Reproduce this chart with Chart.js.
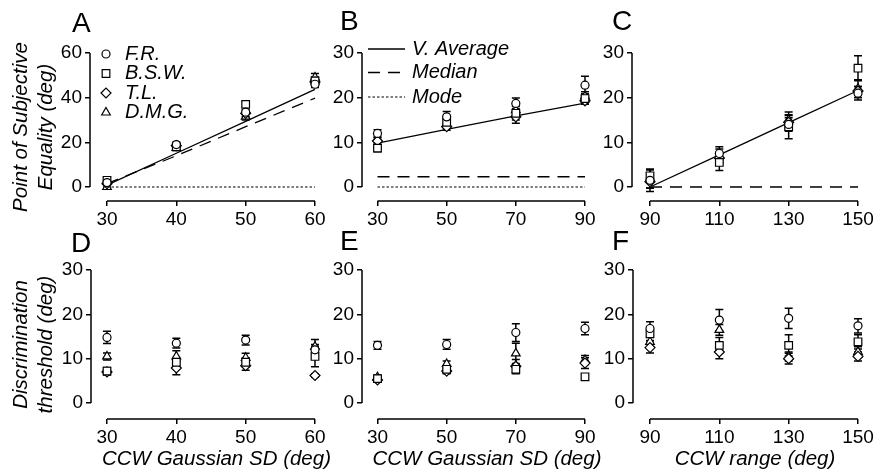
<!DOCTYPE html>
<html>
<head>
<meta charset="utf-8">
<script src="https://cdn.jsdelivr.net/npm/chart.js@4.4.0/dist/chart.umd.min.js"></script>
<style>
  body { margin: 0; background: #ffffff; }
  #figure { position: relative; width: 887px; height: 476px; overflow: hidden; }
  #figure canvas { position: absolute; }
</style>
</head>
<body>
<div id="figure">
  <canvas id="panel-a"></canvas>
  <canvas id="panel-b"></canvas>
  <canvas id="panel-c"></canvas>
  <canvas id="panel-d"></canvas>
  <canvas id="panel-e"></canvas>
  <canvas id="panel-f"></canvas>
</div>
<script>
const subjects = ["F.R.", "B.S.W.", "T.L.", "D.M.G."];
const modelNames = ["V. Average", "Median", "Mode"];

const gaussSdA = [30, 40, 50, 60];
const gaussSdB = [30, 50, 70, 90];
const rangeC = [90, 110, 130, 150];

const pseTicksA = [0, 20, 40, 60];
const pseTicksBC = [0, 10, 20, 30];
const thrTicks = [0, 10, 20, 30];

// point of subjective equality, one row per subject
const pseA = [
  [2.0, 19.0, 33.5, 46.0],
  [3.0, 18.0, 37.0, 47.5],
  [1.5, 18.5, 33.0, 47.0],
  [0.0, 17.5, 31.5, 49.0]
];
const pseAErr = [
  [1.0, 1.2, 1.0, 1.5],
  [1.2, 1.0, 1.2, 1.8],
  [1.0, 1.0, 1.5, 1.5],
  [1.0, 1.2, 1.5, 1.8]
];
const avgA = [0.8, 15.1, 29.4, 43.7];
const medianA = [1.5, 14.0, 27.0, 39.8];
const modeA = [0, 0, 0, 0];

const pseB = [
  [12.0, 15.7, 18.7, 22.8],
  [8.7, 14.5, 16.5, 19.8],
  [10.3, 13.5, 15.7, 19.3],
  [10.9, 14.2, 17.2, 20.3]
];
const pseBErr = [
  [0.8, 1.2, 1.2, 2.0],
  [0.8, 1.0, 1.5, 1.0],
  [0.8, 0.8, 1.4, 0.8],
  [1.0, 1.0, 1.5, 1.0]
];
const avgB = [9.8, 12.9, 15.9, 18.8];
const medianB = [2.3, 2.3, 2.3, 2.3];
const modeB = [0, 0, 0, 0];

const pseC = [
  [1.5, 7.5, 14.0, 21.0],
  [2.5, 5.5, 13.5, 26.6],
  [1.2, 6.5, 14.5, 21.5],
  [1.8, 7.0, 15.0, 22.0]
];
const pseCErr = [
  [2.5, 1.5, 1.5, 1.5],
  [1.5, 1.8, 2.7, 2.8],
  [1.5, 1.2, 1.5, 1.0],
  [2.0, 1.5, 1.8, 2.0]
];
const avgC = [0.0, 7.2, 14.4, 21.6];
const medianC = [0, 0, 0, 0];

// discrimination thresholds
const thrD = [
  [14.8, 13.5, 14.2, 12.0],
  [7.2, 9.2, 9.2, 10.5],
  [7.0, 7.9, 8.4, 6.2],
  [10.5, 10.5, 10.2, 12.7]
];
const thrDErr = [
  [1.4, 1.1, 1.1, 1.2],
  [0.8, 1.0, 1.0, 2.3],
  [0.6, 1.5, 1.0, 0.4],
  [0.8, 1.3, 1.0, 1.6]
];

const thrE = [
  [13.0, 13.2, 15.9, 16.8],
  [5.5, 7.6, 7.6, 5.9],
  [5.2, 7.2, 8.3, 9.0],
  [5.8, 8.8, 11.2, 9.7]
];
const thrEErr = [
  [0.9, 1.1, 2.0, 1.4],
  [0.5, 0.7, 1.0, 0.6],
  [0.5, 0.6, 1.5, 1.2],
  [0.5, 0.7, 2.3, 1.0]
];

const thrF = [
  [16.8, 18.7, 19.1, 17.4],
  [15.6, 13.0, 13.0, 13.8],
  [12.5, 11.5, 10.0, 10.5],
  [13.8, 16.5, 10.5, 11.5]
];
const thrFErr = [
  [1.5, 2.4, 2.3, 1.6],
  [1.5, 1.8, 2.4, 1.6],
  [1.2, 1.5, 1.2, 1.0],
  [1.2, 1.2, 1.0, 1.2]
];

const fontFamily = "'Liberation Sans', Arial, Helvetica, sans-serif";
Chart.defaults.font.family = fontFamily;
Chart.defaults.color = "#000000";

const markerStyles = ["circle", "rect", "rectRot", "triangle"];
const markerSizes = [4, 5.4, 5, 5];
const lineDashes = [[], [12, 8], [2.5, 2]];
const lineWidths = [1.3, 1.3, 1];

function subjectDatasets(xs, values, errors) {
  return values.map((row, i) => ({
    label: subjects[i],
    data: xs.map((x, j) => ({ x: x, y: row[j] })),
    errors: errors[i],
    showLine: false,
    pointStyle: markerStyles[i],
    pointRadius: markerSizes[i],
    pointHoverRadius: markerSizes[i],
    pointBackgroundColor: "#ffffff",
    pointBorderColor: "#000000",
    pointBorderWidth: 1.2,
    order: 0,
    clip: false
  }));
}

function modelDataset(xs, values, kind) {
  return {
    label: modelNames[kind],
    data: xs.map((x, j) => ({ x: x, y: values[j] })),
    showLine: true,
    borderColor: "#000000",
    borderWidth: lineWidths[kind],
    borderDash: lineDashes[kind],
    pointRadius: 0,
    pointHoverRadius: 0,
    order: 1,
    clip: false
  };
}

// vertical error bars with caps, drawn under the markers
const errorBars = {
  id: "errorBars",
  beforeDatasetsDraw(chart) {
    const ctx = chart.ctx;
    const yScale = chart.scales.y;
    ctx.save();
    ctx.strokeStyle = "#000000";
    ctx.lineWidth = 1.5;
    chart.data.datasets.forEach((ds, i) => {
      if (!ds.errors) return;
      chart.getDatasetMeta(i).data.forEach((pt, j) => {
        const v = ds.data[j].y;
        const e = ds.errors[j];
        const top = yScale.getPixelForValue(v + e);
        const bottom = yScale.getPixelForValue(v - e);
        ctx.beginPath();
        ctx.moveTo(pt.x, top);
        ctx.lineTo(pt.x, bottom);
        ctx.moveTo(pt.x - 4, top);
        ctx.lineTo(pt.x + 4, top);
        ctx.moveTo(pt.x - 4, bottom);
        ctx.lineTo(pt.x + 4, bottom);
        ctx.stroke();
      });
    });
    ctx.restore();
  }
};

// axis lines that only run between the first and last tick
const offsetAxes = {
  id: "offsetAxes",
  beforeDatasetsDraw(chart) {
    const { ctx, chartArea, scales } = chart;
    const x = scales.x;
    const y = scales.y;
    ctx.save();
    ctx.strokeStyle = "#000000";
    ctx.lineWidth = 1.5;
    ctx.beginPath();
    ctx.moveTo(chartArea.left, y.getPixelForValue(y.ticks[0].value));
    ctx.lineTo(chartArea.left, y.getPixelForValue(y.ticks[y.ticks.length - 1].value));
    ctx.moveTo(x.getPixelForValue(x.ticks[0].value), chartArea.bottom);
    ctx.lineTo(x.getPixelForValue(x.ticks[x.ticks.length - 1].value), chartArea.bottom);
    ctx.stroke();
    ctx.restore();
  }
};

// panel letter and the small keys inside panels A and B
function decorPlugin(decor) {
  return {
    id: "panelDecor",
    afterDraw(chart) {
      const ctx = chart.ctx;
      ctx.save();
      ctx.fillStyle = "#000000";
      ctx.font = "28px " + fontFamily;
      ctx.textBaseline = "alphabetic";
      ctx.textAlign = "left";
      ctx.fillText(decor.letter, decor.letterX, decor.letterY);

      (decor.keys || []).forEach((k) => {
        ctx.setLineDash([]);
        if (k.marker !== undefined) {
          ctx.fillStyle = "#ffffff";
          ctx.strokeStyle = "#000000";
          ctx.lineWidth = 1.2;
          Chart.helpers.drawPoint(ctx, {
            pointStyle: markerStyles[k.marker],
            radius: markerSizes[k.marker],
            rotation: 0,
            borderWidth: 1.2
          }, k.x, k.y);
        } else {
          ctx.strokeStyle = "#000000";
          ctx.lineWidth = lineWidths[k.line];
          ctx.setLineDash(lineDashes[k.line]);
          ctx.beginPath();
          ctx.moveTo(k.x, k.y);
          ctx.lineTo(k.x2, k.y);
          ctx.stroke();
          ctx.setLineDash([]);
        }
        ctx.fillStyle = "#000000";
        ctx.font = "italic 20px " + fontFamily;
        ctx.textBaseline = "middle";
        ctx.fillText(k.text, k.textX, k.y);
      });
      ctx.restore();
    }
  };
}

function createPanel(id, box, cfg) {
  const canvas = document.getElementById(id);
  canvas.width = box.w;
  canvas.height = box.h;
  canvas.style.left = box.x + "px";
  canvas.style.top = box.y + "px";
  canvas.style.width = box.w + "px";
  canvas.style.height = box.h + "px";

  const xT = cfg.xTicks;
  const yT = cfg.yTicks;
  const yFirst = yT[0];
  const yLast = yT[yT.length - 1];
  const xFirst = xT[0];
  const xLast = xT[xT.length - 1];
  const yPx = (box.zeroY - box.topY) / (yLast - yFirst);
  const xPx = (box.lastX - box.firstX) / (xLast - xFirst);

  // shift decorations from page to canvas coordinates
  const decor = {
    letter: cfg.letter,
    letterX: cfg.letterX - box.x,
    letterY: cfg.letterY - box.y,
    keys: (cfg.keys || []).map((k) => Object.assign({}, k, {
      x: k.x - box.x,
      x2: k.x2 !== undefined ? k.x2 - box.x : undefined,
      textX: k.textX - box.x,
      y: k.y - box.y
    }))
  };

  return new Chart(canvas, {
    type: "scatter",
    data: { datasets: cfg.datasets },
    options: {
      responsive: false,
      animation: false,
      events: [],
      layout: {
        padding: {
          top: box.topY - box.y,
          left: 0,
          right: box.x + box.w - box.right,
          bottom: 0
        }
      },
      plugins: {
        legend: { display: false },
        tooltip: { enabled: false }
      },
      scales: {
        x: {
          type: "linear",
          min: xFirst - (box.firstX - box.axisX) / xPx,
          max: xLast + (box.right - box.lastX) / xPx,
          afterBuildTicks: (axis) => { axis.ticks = xT.map((v) => ({ value: v })); },
          afterFit: (axis) => { axis.height = box.y + box.h - box.axisY; },
          border: { display: false },
          grid: {
            drawOnChartArea: false,
            drawTicks: true,
            tickLength: 5,
            color: "#000000",
            lineWidth: 1.5
          },
          ticks: {
            autoSkip: false,
            maxRotation: 0,
            minRotation: 0,
            padding: 2,
            color: "#000000",
            font: { size: 19 },
            callback: (v) => String(v)
          },
          title: {
            display: !!cfg.xTitle,
            text: cfg.xTitle || "",
            color: "#000000",
            font: { size: 20.5, style: "italic" },
            padding: { top: 0, bottom: 4 }
          }
        },
        y: {
          type: "linear",
          min: yFirst - (box.axisY - box.zeroY) / yPx,
          max: yLast,
          afterBuildTicks: (axis) => { axis.ticks = yT.map((v) => ({ value: v })); },
          afterFit: (axis) => { axis.width = box.axisX - box.x; },
          border: { display: false },
          grid: {
            drawOnChartArea: false,
            drawTicks: true,
            tickLength: 5,
            color: "#000000",
            lineWidth: 1.5
          },
          ticks: {
            autoSkip: false,
            padding: 3,
            color: "#000000",
            font: { size: 19 },
            callback: (v) => String(v)
          },
          title: {
            display: !!cfg.yTitle,
            text: cfg.yTitle || "",
            color: "#000000",
            font: { size: 20.5, style: "italic" },
            padding: { top: 9, bottom: 0 }
          }
        }
      }
    },
    plugins: [offsetAxes, errorBars, decorPlugin(decor)]
  });
}

const topRow = { y: 0, h: 240, topY: 53, zeroY: 187, axisY: 201 };
const bottomRow = { y: 220, h: 256, topY: 270, zeroY: 403, axisY: 419 };

createPanel("panel-a",
  Object.assign({ x: 0, w: 345, axisX: 90, firstX: 107, lastX: 315, right: 330 }, topRow), {
  letter: "A", letterX: 72, letterY: 32,
  xTicks: gaussSdA, yTicks: pseTicksA,
  yTitle: ["Point of Subjective", "Equality (deg)"],
  datasets: subjectDatasets(gaussSdA, pseA, pseAErr).concat([
    modelDataset(gaussSdA, avgA, 0),
    modelDataset(gaussSdA, medianA, 1),
    modelDataset(gaussSdA, modeA, 2)
  ]),
  keys: subjects.map((s, i) => ({ marker: i, text: s, x: 106, textX: 125, y: 54 + i * 19.5 }))
});

createPanel("panel-b",
  Object.assign({ x: 300, w: 320, axisX: 362, firstX: 377.5, lastX: 585, right: 600 }, topRow), {
  letter: "B", letterX: 340, letterY: 30,
  xTicks: gaussSdB, yTicks: pseTicksBC,
  datasets: subjectDatasets(gaussSdB, pseB, pseBErr).concat([
    modelDataset(gaussSdB, avgB, 0),
    modelDataset(gaussSdB, medianB, 1),
    modelDataset(gaussSdB, modeB, 2)
  ]),
  keys: modelNames.map((s, i) => ({ line: i, text: s, x: 368, x2: 405, textX: 412, y: [49, 72.5, 97][i] }))
});

createPanel("panel-c",
  Object.assign({ x: 590, w: 297, axisX: 632, firstX: 650, lastX: 858, right: 875 }, topRow), {
  letter: "C", letterX: 612, letterY: 30,
  xTicks: rangeC, yTicks: pseTicksBC,
  datasets: subjectDatasets(rangeC, pseC, pseCErr).concat([
    modelDataset(rangeC, avgC, 0),
    modelDataset(rangeC, medianC, 1)
  ])
});

createPanel("panel-d",
  Object.assign({ x: 0, w: 350, axisX: 91, firstX: 107, lastX: 315, right: 342 }, bottomRow), {
  letter: "D", letterX: 71, letterY: 252,
  xTicks: gaussSdA, yTicks: thrTicks,
  yTitle: ["Discrimination", "threshold (deg)"],
  xTitle: "CCW Gaussian SD (deg)",
  datasets: subjectDatasets(gaussSdA, thrD, thrDErr)
});

createPanel("panel-e",
  Object.assign({ x: 300, w: 320, axisX: 362, firstX: 377.5, lastX: 585, right: 612 }, bottomRow), {
  letter: "E", letterX: 340, letterY: 250,
  xTicks: gaussSdB, yTicks: thrTicks,
  xTitle: "CCW Gaussian SD (deg)",
  datasets: subjectDatasets(gaussSdB, thrE, thrEErr)
});

createPanel("panel-f",
  Object.assign({ x: 590, w: 297, axisX: 633, firstX: 650, lastX: 858, right: 877 }, bottomRow), {
  letter: "F", letterX: 612, letterY: 250,
  xTicks: rangeC, yTicks: thrTicks,
  xTitle: "CCW range (deg)",
  datasets: subjectDatasets(rangeC, thrF, thrFErr)
});
</script>
</body>
</html>
